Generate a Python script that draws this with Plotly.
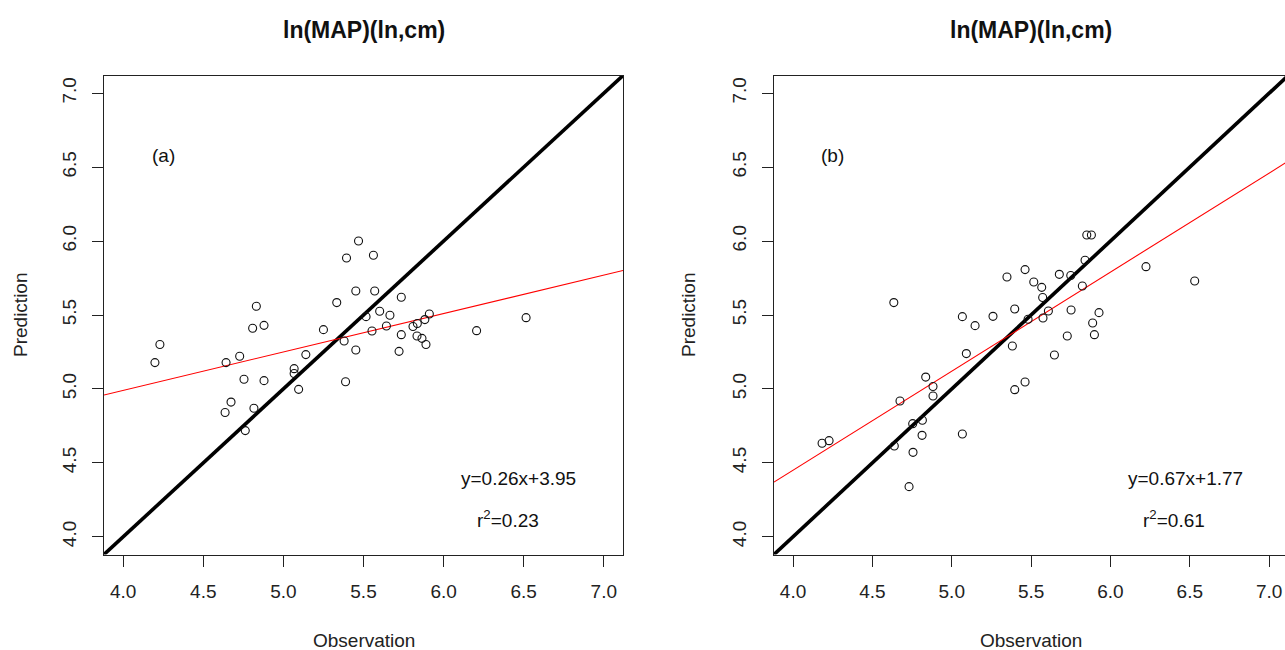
import plotly.graph_objects as go

# ---------------- data ----------------
obs_a = [4.229, 4.198, 4.831, 4.808, 4.879, 5.333, 5.250, 4.642, 4.727, 5.140,
         5.067, 5.067, 4.754, 4.879, 5.095, 4.673, 4.636, 4.816, 4.762, 5.469,
         5.394, 5.562, 5.452, 5.570, 5.736, 5.516, 5.601, 5.665, 5.643, 5.553,
         5.809, 5.836, 5.883, 5.911, 5.736, 5.834, 5.865, 5.890, 5.379, 5.452,
         5.722, 6.206, 6.515, 5.388]
pred_a = [5.300, 5.178, 5.559, 5.410, 5.430, 5.584, 5.401, 5.178, 5.221, 5.232,
          5.137, 5.104, 5.065, 5.056, 4.997, 4.911, 4.840, 4.869, 4.718, 6.001,
          5.886, 5.904, 5.662, 5.662, 5.620, 5.489, 5.525, 5.498, 5.426, 5.392,
          5.422, 5.442, 5.469, 5.507, 5.367, 5.358, 5.342, 5.300, 5.324, 5.263,
          5.254, 5.394, 5.482, 5.049]

obs_b = [4.635, 5.067, 5.147, 5.260, 5.092, 5.382, 4.836, 4.882, 4.882, 4.674,
         4.754, 4.815, 4.813, 5.067, 4.183, 4.227, 4.638, 4.756, 4.731, 5.851,
         5.880, 5.840, 5.462, 5.348, 5.678, 5.750, 5.517, 5.567, 5.823, 5.573,
         5.397, 5.609, 5.481, 5.575, 5.752, 5.928, 5.888, 5.899, 5.728, 5.647,
         5.462, 5.397, 6.224, 6.531]
pred_b = [5.584, 5.489, 5.428, 5.491, 5.239, 5.290, 5.080, 5.016, 4.952, 4.918,
          4.765, 4.788, 4.686, 4.695, 4.632, 4.650, 4.614, 4.571, 4.339, 6.041,
          6.041, 5.870, 5.807, 5.757, 5.775, 5.767, 5.723, 5.687, 5.696, 5.618,
          5.541, 5.527, 5.471, 5.480, 5.534, 5.516, 5.446, 5.367, 5.358, 5.229,
          5.047, 4.995, 5.827, 5.730]

fit_slope = [0.26, 0.67]
fit_intercept = [3.95, 1.77]
r2_values = [0.23, 0.61]
panel_labels = ["(a)", "(b)"]
panel_title = "ln(MAP)(ln,cm)"
tick_vals = [4.0, 4.5, 5.0, 5.5, 6.0, 6.5, 7.0]
tick_text = ["4.0", "4.5", "5.0", "5.5", "6.0", "6.5", "7.0"]

# ---------------- layout geometry ----------------
W, H = 1285, 650
FONT = "Liberation Sans, Arial, sans-serif"
full_range = [3.88, 7.12]
ranges_x = [[3.88, 7.12], [3.88, 7.10]]
dom_x = [[104 / W, 623 / W], [774 / W, 1.0]]
dom_y = [(H - 554.5) / H, (H - 75.5) / H]

fig = go.Figure()

series = [(obs_a, pred_a), (obs_b, pred_b)]
for i, (ox, py) in enumerate(series):
    xa = "x" if i == 0 else "x2"
    ya = "y" if i == 0 else "y2"
    # 1:1 line
    fig.add_trace(go.Scatter(x=full_range, y=full_range, mode="lines",
                             line=dict(color="black", width=3.6),
                             xaxis=xa, yaxis=ya, hoverinfo="skip", showlegend=False))
    # regression line
    fx = full_range
    fy = [fit_slope[i] * v + fit_intercept[i] for v in fx]
    fig.add_trace(go.Scatter(x=fx, y=fy, mode="lines",
                             line=dict(color="red", width=1.1),
                             xaxis=xa, yaxis=ya, hoverinfo="skip", showlegend=False))
    # points
    fig.add_trace(go.Scatter(x=ox, y=py, mode="markers",
                             marker=dict(symbol="circle-open", size=8,
                                         color="#111111", line=dict(width=1.1)),
                             xaxis=xa, yaxis=ya, showlegend=False))

axis_common = dict(
    tickmode="array", tickvals=tick_vals, ticktext=tick_text,
    ticks="outside", ticklen=11, tickwidth=1, tickcolor="#222222",
    showline=True, linecolor="#222222", linewidth=1.2,
    showgrid=False, zeroline=False,
    tickfont=dict(family=FONT, size=19, color="#222222"),
    automargin=False,
)

fig.update_layout(
    width=W, height=H,
    margin=dict(l=0, r=0, t=0, b=0, pad=0),
    paper_bgcolor="white", plot_bgcolor="white",
    font=dict(family=FONT, color="#111111"),
    xaxis=dict(domain=dom_x[0], range=ranges_x[0], anchor="y", mirror=True,
               ticklabelstandoff=9, **axis_common),
    yaxis=dict(domain=dom_y, range=full_range, anchor="x", mirror=True,
               tickangle=-90, ticklabelstandoff=8, **axis_common),
    xaxis2=dict(domain=dom_x[1], range=ranges_x[1], anchor="y2", mirror=True,
                ticklabelstandoff=9, **axis_common),
    yaxis2=dict(domain=dom_y, range=full_range, anchor="x2", mirror=False,
                tickangle=-90, ticklabelstandoff=8, **axis_common),
)

annotations = []
centers = [364 / W, 1031 / W]
ylab_x = [20 / W, 688 / W]
for i in range(2):
    xr = "x" if i == 0 else "x2"
    yr = "y" if i == 0 else "y2"
    annotations.append(dict(text="<b>" + panel_title + "</b>", x=centers[i], y=(H - 30) / H,
                            xref="paper", yref="paper", showarrow=False,
                            xanchor="center", yanchor="middle",
                            font=dict(family=FONT, size=23, color="#111111")))
    annotations.append(dict(text="Observation", x=centers[i], y=(H - 640) / H,
                            xref="paper", yref="paper", showarrow=False,
                            xanchor="center", yanchor="middle",
                            font=dict(family=FONT, size=19, color="#222222")))
    annotations.append(dict(text="Prediction", x=ylab_x[i], y=(H - 315) / H,
                            xref="paper", yref="paper", showarrow=False, textangle=-90,
                            xanchor="center", yanchor="middle",
                            font=dict(family=FONT, size=19, color="#222222")))
    annotations.append(dict(text=panel_labels[i], x=4.25, y=6.58, xref=xr, yref=yr,
                            showarrow=False, xanchor="center", yanchor="middle",
                            font=dict(family=FONT, size=19, color="#111111")))
    annotations.append(dict(text="y=%.2fx+%.2f" % (fit_slope[i], fit_intercept[i]),
                            x=6.47, y=4.395, xref=xr, yref=yr,
                            showarrow=False, xanchor="center", yanchor="middle",
                            font=dict(family=FONT, size=19, color="#111111")))
    annotations.append(dict(text="r<sup>2</sup>=%.2f" % r2_values[i],
                            x=6.40, y=4.12, xref=xr, yref=yr,
                            showarrow=False, xanchor="center", yanchor="middle",
                            font=dict(family=FONT, size=19, color="#111111")))
fig.update_layout(annotations=annotations)

fig.write_html("out.html",
               config={"displayModeBar": False},
               post_script="document.body.style.margin='0';document.body.style.overflow='hidden';")
